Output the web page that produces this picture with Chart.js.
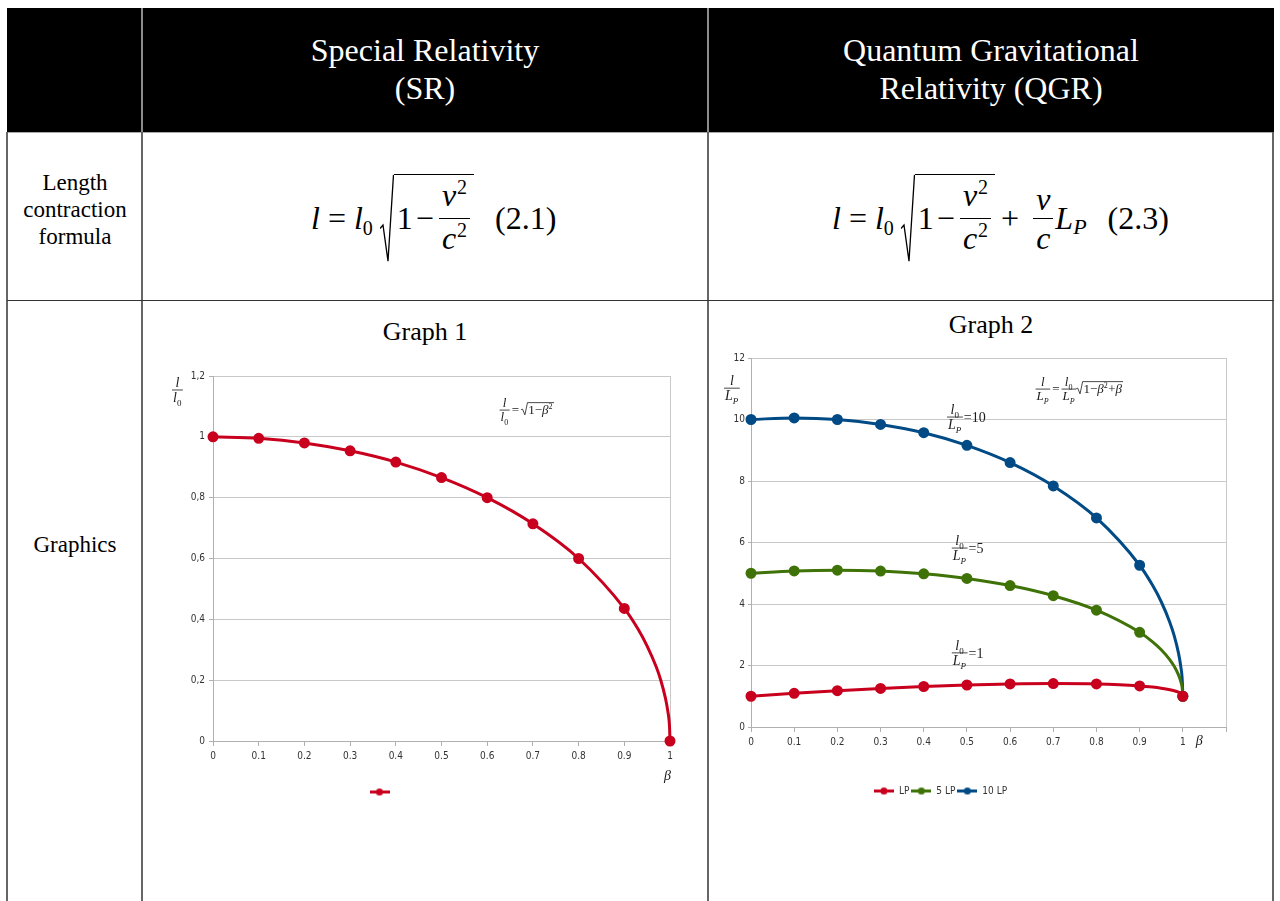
<!DOCTYPE html>
<html>
<head>
<meta charset="utf-8">
<script src="https://cdn.jsdelivr.net/npm/chart.js@4.4.0/dist/chart.umd.min.js"></script>
<style>
body { margin: 0; width: 1280px; height: 901px; overflow: hidden; background: #fff; position: relative;
       font-family: "Liberation Serif", "Times New Roman", serif; color: #000; }
.abs { position: absolute; }
.head { left: 7px; top: 8px; width: 1267px; height: 124px; background: #000; border-bottom: 1px solid #a8a8a8; }
.hsep { top: 8px; width: 2px; height: 125px; background: #8c8c8c; }
.vsep { top: 132px; width: 2px; height: 769px; background: #666; }
.hrule { left: 7px; top: 300px; width: 1267px; height: 1px; background: #333; }
.htext { color: #fff; font-size: 32px; line-height: 38px; text-align: center; top: 31px; width: 566px; }
.cell { font-size: 23px; line-height: 27px; text-align: center; left: 7px; width: 136px; }
.gtitle { font-size: 26px; line-height: 30px; text-align: center; width: 566px; }
.eq { display: flex; align-items: center; font-size: 32px; white-space: nowrap; transform: translateY(-50%); }
.eq i { font-style: italic; }
.op { margin: 0 8px; }
.plus { margin: 0 12px 0 6px; }
.mop { margin: 0 3px; }
.sub { font-size: 20px; position: relative; top: 10px; }
.subp { font-size: 22px; position: relative; top: 9px; }
.rad { display: flex; align-items: flex-start; margin-left: 7px; }
.rad svg { width: 14px; height: 88px; display: block; }
.rad path { fill: none; stroke: #000; stroke-width: 1.3; vector-effect: non-scaling-stroke; }
.rin { display: flex; align-items: center; height: 86px; border-top: 1.5px solid #000; padding: 0 2px 0 3px; }
.frac { display: inline-flex; flex-direction: column; align-items: center; margin: 0 2px; }
.num { border-bottom: 1.5px solid #000; padding: 0 3px; line-height: 38px; }
.den { line-height: 38px; padding: 0 3px; }
.frac sup { font-size: 20px; position: relative; top: -12px; vertical-align: baseline; margin-left: 1px; }
.tag { margin-left: 21px; }
canvas { position: absolute; }
</style>
</head>
<body>
<div class="abs head"></div>
<div class="abs hsep" style="left:141px"></div>
<div class="abs hsep" style="left:707px"></div>
<div class="abs htext" style="left:142px">Special Relativity<br>(SR)</div>
<div class="abs htext" style="left:708px">Quantum Gravitational<br>Relativity (QGR)</div>

<div class="abs vsep" style="left:6px"></div>
<div class="abs vsep" style="left:141px"></div>
<div class="abs vsep" style="left:707px"></div>
<div class="abs vsep" style="left:1272px"></div>
<div class="abs hrule"></div>

<div class="abs cell" style="top:169px">Length<br>contraction<br>formula</div>
<div class="abs cell" style="top:531px">Graphics</div>

<div class="abs eq" style="left:311px;top:218px">
  <i>l</i><span class="op">=</span><i>l</i><span class="sub">0</span>
  <span class="rad"><svg viewBox="0 0 14 100" preserveAspectRatio="none"><path d="M0 62 L3 58 L8 99 L13.5 1"/></svg>
    <span class="rin">1<span class="mop">−</span><span class="frac"><span class="num"><i>v</i><sup>2</sup></span><span class="den"><i>c</i><sup>2</sup></span></span></span></span>
  <span class="tag">(2.1)</span>
</div>

<div class="abs eq" style="left:832px;top:218px">
  <i>l</i><span class="op">=</span><i>l</i><span class="sub">0</span>
  <span class="rad"><svg viewBox="0 0 14 100" preserveAspectRatio="none"><path d="M0 62 L3 58 L8 99 L13.5 1"/></svg>
    <span class="rin">1<span class="mop">−</span><span class="frac"><span class="num"><i>v</i><sup>2</sup></span><span class="den"><i>c</i><sup>2</sup></span></span></span></span>
  <span class="plus">+</span><span class="frac"><span class="num"><i>v</i></span><span class="den"><i>c</i></span></span><i>L</i><span class="subp"><i>P</i></span>
  <span class="tag">(2.3)</span>
</div>

<div class="abs gtitle" style="left:142px;top:317px">Graph 1</div>
<div class="abs gtitle" style="left:708px;top:310px">Graph 2</div>

<canvas id="sr" width="596" height="457" style="left:94px;top:350px"></canvas>
<canvas id="qgr" width="595" height="466" style="left:655px;top:340px"></canvas>

<script>
// beta = v/c; the points past 0.9 carry no marker, they only shape the curve into 1
var beta = [0, 0.1, 0.2, 0.3, 0.4, 0.5, 0.6, 0.7, 0.8, 0.9, 0.93, 0.95, 0.97, 0.98, 0.99, 0.995, 0.999, 1];
var marked = [1, 1, 1, 1, 1, 1, 1, 1, 1, 1, 0, 0, 0, 0, 0, 0, 0, 1];

// Graph 1: l / l0
var srRatio = [1, 0.995, 0.98, 0.954, 0.917, 0.866, 0.8, 0.714, 0.6, 0.436,
               0.368, 0.312, 0.243, 0.199, 0.141, 0.1, 0.045, 0];

// Graph 2: l / LP for l0 = LP, 5 LP, 10 LP
var qgrNames = ['LP', '5 LP', '10 LP'];
var qgr1 = [1, 1.095, 1.18, 1.254, 1.317, 1.366, 1.4, 1.414, 1.4, 1.336,
            1.298, 1.262, 1.213, 1.179, 1.131, 1.095, 1.044, 1];
var qgr5 = [5, 5.075, 5.1, 5.07, 4.98, 4.83, 4.6, 4.27, 3.8, 3.08,
            2.768, 2.511, 2.186, 1.975, 1.695, 1.495, 1.223, 1];
var qgr10 = [10, 10.05, 10, 9.84, 9.57, 9.16, 8.6, 7.84, 6.8, 5.26,
             4.606, 4.073, 3.401, 2.97, 2.401, 1.994, 1.446, 1];

var betaTicks = ['0', '0.1', '0.2', '0.3', '0.4', '0.5', '0.6', '0.7', '0.8', '0.9', '1'];
var srTicks = ['0', '0,2', '0,4', '0,6', '0,8', '1', '1,2'];
var qgrTicks = ['0', '2', '4', '6', '8', '10', '12'];

var red = '#c8001e';
var green = '#3f7207';
var blue = '#004a85';
var gridColor = '#c9c9c9';
var axisColor = '#b0b0b0';
var ink = '#1a1a1a';

Chart.defaults.font.family = '"Liberation Sans Narrow", "DejaVu Sans Condensed", "Liberation Sans", sans-serif';
Chart.defaults.font.size = 10;
Chart.defaults.color = '#333';
Chart.defaults.animation = false;

var points = function (ys) {
    return beta.map(function (b, i) { return { x: b, y: ys[i] }; });
};

var series = function (label, ys, color) {
    return {
        label: label,
        data: points(ys),
        borderColor: color,
        backgroundColor: color,
        borderWidth: 3,
        pointRadius: marked.map(function (m) { return m ? 4 : 0; }),
        pointHoverRadius: 0,
        pointStyle: 'circle',
        cubicInterpolationMode: 'monotone',
        clip: false
    };
};

// small line-with-dot picture for the legend
var legendIcon = function (color) {
    var c = document.createElement('canvas');
    c.width = 20;
    c.height = 9;
    var g = c.getContext('2d');
    g.strokeStyle = color;
    g.lineWidth = 3;
    g.beginPath();
    g.moveTo(0, 4.5);
    g.lineTo(20, 4.5);
    g.stroke();
    g.fillStyle = color;
    g.beginPath();
    g.arc(10, 4.5, 3.6, 0, Math.PI * 2);
    g.fill();
    return c;
};

// ---- tiny math text helpers for the canvas annotations ----
var setFont = function (ctx, size, italic) {
    ctx.font = (italic ? 'italic ' : '') + size + 'px "Liberation Serif", serif';
};

// parts: [text, kind] with kind r (roman), i (italic), sub, subi, sup
var run = function (ctx, x, y, parts, size, dry) {
    var cx = x;
    parts.forEach(function (p) {
        var k = p[1];
        var small = k === 'sub' || k === 'subi' || k === 'sup';
        setFont(ctx, small ? Math.round(size * 0.62) : size, k === 'i' || k === 'subi');
        var dy = (k === 'sub' || k === 'subi') ? size * 0.28 : (k === 'sup' ? -size * 0.42 : 0);
        if (!dry) ctx.fillText(p[0], cx, y + dy);
        cx += ctx.measureText(p[0]).width + (small ? 0.5 : 0);
    });
    return cx - x;
};

var frac = function (ctx, x, mid, num, den, size) {
    var nw = run(ctx, 0, 0, num, size, true);
    var dw = run(ctx, 0, 0, den, size, true);
    var w = Math.max(nw, dw) + 2;
    ctx.fillRect(x, mid - 0.4, w, 0.8);
    run(ctx, x + (w - nw) / 2, mid - size * 0.22, num, size);
    run(ctx, x + (w - dw) / 2, mid + size * 0.84, den, size);
    return w;
};

var root = function (ctx, x, base, parts, size) {
    var bw = run(ctx, 0, 0, parts, size, true);
    var top = base - size * 0.88;
    ctx.beginPath();
    ctx.moveTo(x, base - size * 0.33);
    ctx.lineTo(x + size * 0.12, base - size * 0.38);
    ctx.lineTo(x + size * 0.3, base + size * 0.06);
    ctx.lineTo(x + size * 0.5, top);
    ctx.lineTo(x + size * 0.56 + bw + 1, top);
    ctx.stroke();
    run(ctx, x + size * 0.56, base, parts, size);
    return size * 0.56 + bw + 1;
};

var ratioLabel = function (ctx, x, mid, den, tail, size) {
    var w = frac(ctx, x, mid, [['l', 'i'], ['0', 'sub']], den, size);
    run(ctx, x + w + 1, mid + size * 0.33, [['=' + tail, 'r']], size);
};

var annotate = function (draw) {
    return {
        id: 'notes',
        afterDraw: function (chart) {
            var ctx = chart.ctx;
            ctx.save();
            ctx.fillStyle = ink;
            ctx.strokeStyle = ink;
            ctx.lineWidth = 0.8;
            ctx.textBaseline = 'alphabetic';
            ctx.textAlign = 'left';
            draw(ctx, chart.scales.x, chart.scales.y, chart.chartArea);
            ctx.restore();
        }
    };
};

var xGrid = function (max) {
    return {
        color: function (c) { return c.tick && c.tick.value > max - 1e-6 ? gridColor : 'rgba(0,0,0,0)'; },
        tickColor: axisColor,
        tickLength: 5
    };
};

// ---------------- Graph 1 ----------------
new Chart(document.getElementById('sr'), {
    type: 'line',
    data: { datasets: [series('', srRatio, red)] },
    options: {
        responsive: false,
        layout: { padding: { top: 26, right: 20, bottom: 0, left: 0 } },
        plugins: {
            tooltip: { enabled: false },
            legend: {
                position: 'bottom',
                labels: {
                    usePointStyle: true,
                    pointStyleWidth: 20,
                    padding: 2,
                    color: '#333',
                    generateLabels: function (chart) {
                        return Chart.defaults.plugins.legend.labels.generateLabels(chart).map(function (item) {
                            item.pointStyle = legendIcon(red);
                            return item;
                        });
                    }
                }
            }
        },
        scales: {
            x: {
                type: 'linear', min: 0, max: 1,
                afterFit: function (s) { s.height = 44; },
                grid: xGrid(1),
                border: { color: axisColor },
                ticks: { stepSize: 0.1, autoSkip: false, maxRotation: 0, padding: 4,
                         callback: function (v, i) { return betaTicks[i] || ''; } }
            },
            y: {
                min: 0, max: 1.2,
                afterFit: function (s) { s.width = 119; },
                grid: { color: gridColor, tickColor: axisColor, tickLength: 4 },
                border: { color: axisColor },
                ticks: { stepSize: 0.2, padding: 4,
                         callback: function (v, i) { return srTicks[i]; } }
            }
        }
    },
    plugins: [annotate(function (ctx, xs, ys, area) {
        // axis names
        frac(ctx, area.left - 41, ys.getPixelForValue(1.154), [['l', 'i']], [['l', 'i'], ['0', 'sub']], 14);
        run(ctx, xs.getPixelForValue(1) - 6, area.bottom + 39, [['β', 'i']], 14);
        // formula
        var x = xs.getPixelForValue(0.627);
        var mid = ys.getPixelForValue(1.088);
        x += frac(ctx, x, mid, [['l', 'i']], [['l', 'i'], ['0', 'sub']], 13) + 2;
        x += run(ctx, x, mid + 4, [['=', 'r']], 13) + 2;
        root(ctx, x, mid + 4, [['1', 'r'], ['\u2212', 'r'], ['β', 'i'], ['2', 'sup']], 13);
    })]
});

// ---------------- Graph 2 ----------------
var qgrColors = [red, green, blue];
new Chart(document.getElementById('qgr'), {
    type: 'line',
    data: {
        datasets: [
            series(qgrNames[0], qgr1, red),
            series(qgrNames[1], qgr5, green),
            series(qgrNames[2], qgr10, blue)
        ]
    },
    options: {
        responsive: false,
        layout: { padding: { top: 18, right: 24, bottom: 0, left: 0 } },
        plugins: {
            tooltip: { enabled: false },
            legend: {
                position: 'bottom',
                labels: {
                    usePointStyle: true,
                    pointStyleWidth: 20,
                    padding: 2,
                    color: '#333',
                    generateLabels: function (chart) {
                        return Chart.defaults.plugins.legend.labels.generateLabels(chart).map(function (item, i) {
                            item.pointStyle = legendIcon(qgrColors[i]);
                            return item;
                        });
                    }
                }
            }
        },
        scales: {
            x: {
                type: 'linear', min: 0, max: 1.1,
                afterFit: function (s) { s.height = 57; },
                grid: xGrid(1.1),
                border: { color: axisColor },
                ticks: { stepSize: 0.1, autoSkip: false, maxRotation: 0, padding: 4,
                         callback: function (v, i) { return betaTicks[i] || ''; } }
            },
            y: {
                min: 0, max: 12,
                afterFit: function (s) { s.width = 96; },
                grid: { color: gridColor, tickColor: axisColor, tickLength: 3 },
                border: { color: axisColor },
                ticks: { stepSize: 2, padding: 3,
                         callback: function (v, i) { return qgrTicks[i]; } }
            }
        }
    },
    plugins: [annotate(function (ctx, xs, ys, area) {
        var lp = [['L', 'i'], ['P', 'subi']];
        frac(ctx, area.left - 27, ys.getPixelForValue(11.02), [['l', 'i']], lp, 14);
        run(ctx, xs.getPixelForValue(1.03), area.bottom + 18, [['β', 'i']], 14);
        // formula
        var x = xs.getPixelForValue(0.659);
        var mid = ys.getPixelForValue(10.99);
        x += frac(ctx, x, mid, [['l', 'i']], lp, 13) + 2;
        x += run(ctx, x, mid + 4, [['=', 'r']], 13) + 2;
        x += frac(ctx, x, mid, [['l', 'i'], ['0', 'sub']], lp, 13);
        root(ctx, x, mid + 4, [['1', 'r'], ['\u2212', 'r'], ['β', 'i'], ['2', 'sup'], ['+', 'r'], ['β', 'i']], 13);
        // series names
        ratioLabel(ctx, xs.getPixelForValue(0.454), ys.getPixelForValue(10.08), lp, '10', 14);
        ratioLabel(ctx, xs.getPixelForValue(0.465), ys.getPixelForValue(5.82), lp, '5', 14);
        ratioLabel(ctx, xs.getPixelForValue(0.465), ys.getPixelForValue(2.41), lp, '1', 14);
    })]
});
</script>
</body>
</html>
